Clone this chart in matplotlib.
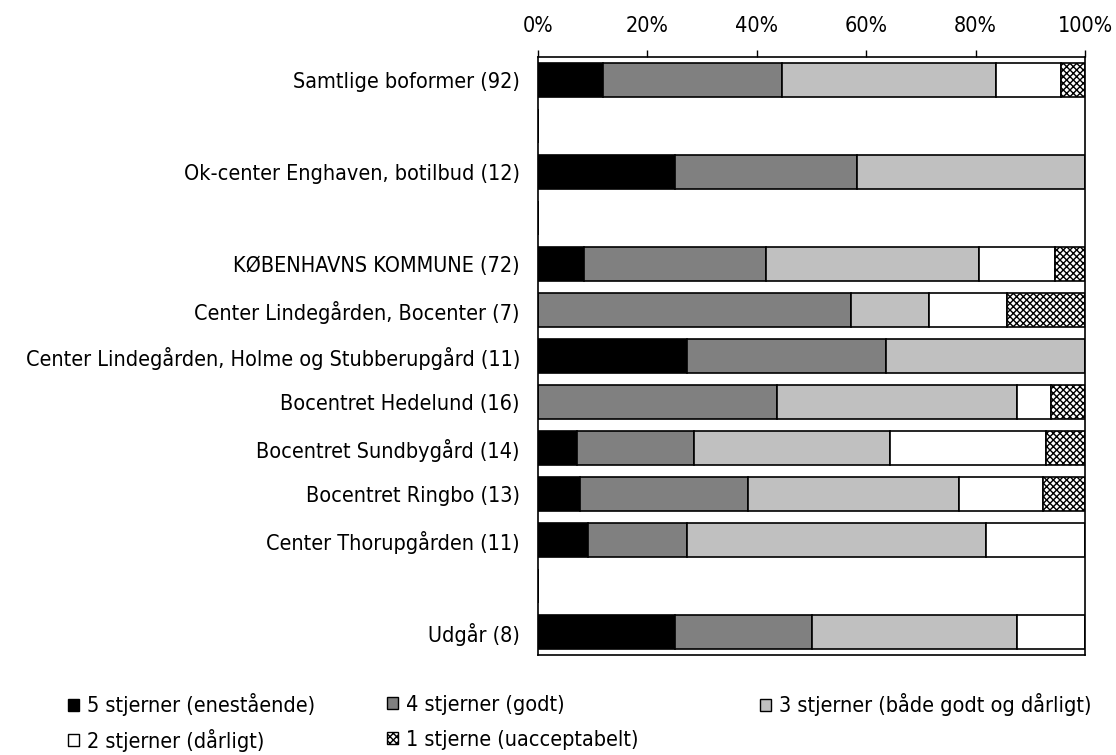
import numpy as np
import matplotlib
matplotlib.use("Agg")
import matplotlib.pyplot as plt
from matplotlib.patches import Patch
from matplotlib.ticker import PercentFormatter

plt.rcParams['font.family'] = ['DejaVu Sans']
plt.rcParams['font.stretch'] = 'condensed'
plt.rcParams['hatch.linewidth'] = 1.0

# rows from top to bottom, "" = empty spacer row
categories = ["Samtlige boformer (92)", "", "Ok-center Enghaven, botilbud (12)", "",
              "KØBENHAVNS KOMMUNE (72)", "Center Lindegården, Bocenter (7)",
              "Center Lindegården, Holme og Stubberupgård (11)", "Bocentret Hedelund (16)",
              "Bocentret Sundbygård (14)", "Bocentret Ringbo (13)", "Center Thorupgården (11)",
              "", "Udgår (8)"]

# antal svar pr. kategori (5, 4, 3, 2, 1 stjerner)
stars5 = [11, 0, 3, 0, 6, 0, 3, 0, 1, 1, 1, 0, 2]
stars4 = [30, 0, 4, 0, 24, 4, 4, 7, 3, 4, 2, 0, 2]
stars3 = [36, 0, 5, 0, 28, 1, 4, 7, 5, 5, 6, 0, 3]
stars2 = [11, 0, 0, 0, 10, 1, 0, 1, 4, 2, 2, 0, 1]
stars1 = [4, 0, 0, 0, 4, 1, 0, 1, 1, 1, 0, 0, 0]

series_labels = ["5 stjerner (enestående)", "4 stjerner (godt)",
                 "3 stjerner (både godt og dårligt)", "2 stjerner (dårligt)",
                 "1 stjerne (uacceptabelt)"]

counts = np.array([stars5, stars4, stars3, stars2, stars1], dtype=float)
totals = counts.sum(axis=0)
totals[totals == 0] = 1
pct = counts / totals * 100

colors = ["#000000", "#808080", "#c0c0c0", "#ffffff", "#ffffff"]
hatches = [None, None, None, None, "xxxxx"]

fig = plt.figure(figsize=(11.16, 7.55), dpi=100)
ax = fig.add_axes([538 / 1116, 1 - 655 / 755, 547 / 1116, 598 / 755])

y = np.arange(len(categories))
left = np.zeros(len(categories))
handles = []
for i in range(5):
    ax.barh(y, pct[i], left=left, height=0.76, color=colors[i], edgecolor="black",
            linewidth=1.2, hatch=hatches[i])
    left += pct[i]
    handles.append(Patch(facecolor=colors[i], edgecolor="black", hatch=hatches[i],
                         linewidth=1.0, label=series_labels[i]))

ax.set_xlim(0, 100)
ax.set_ylim(len(categories) - 0.5, -0.5)
ax.set_yticks(y)
ax.set_yticklabels(categories, fontsize=15.5)
ax.tick_params(axis="y", length=0, pad=13)
ax.xaxis.tick_top()
ax.set_xticks([0, 20, 40, 60, 80, 100])
ax.xaxis.set_major_formatter(PercentFormatter(decimals=0))
ax.tick_params(axis="x", labelsize=15.5, length=5, width=1, pad=10, direction="out")
for s in ax.spines.values():
    s.set_linewidth(1.2)

# legend: one entry per position so rows line up
legend_pos = [(57, 705), (376, 705), (749, 705), (57, 740), (376, 740)]
for h, (px, py) in zip(handles, legend_pos):
    fig.legend(handles=[h], loc="center left",
               bbox_to_anchor=(px / 1116, 1 - py / 755), frameon=False, fontsize=15.5,
               handlelength=0.5, handleheight=0.5, handletextpad=0.4, borderpad=0)

fig.savefig("out.png", dpi=100)
